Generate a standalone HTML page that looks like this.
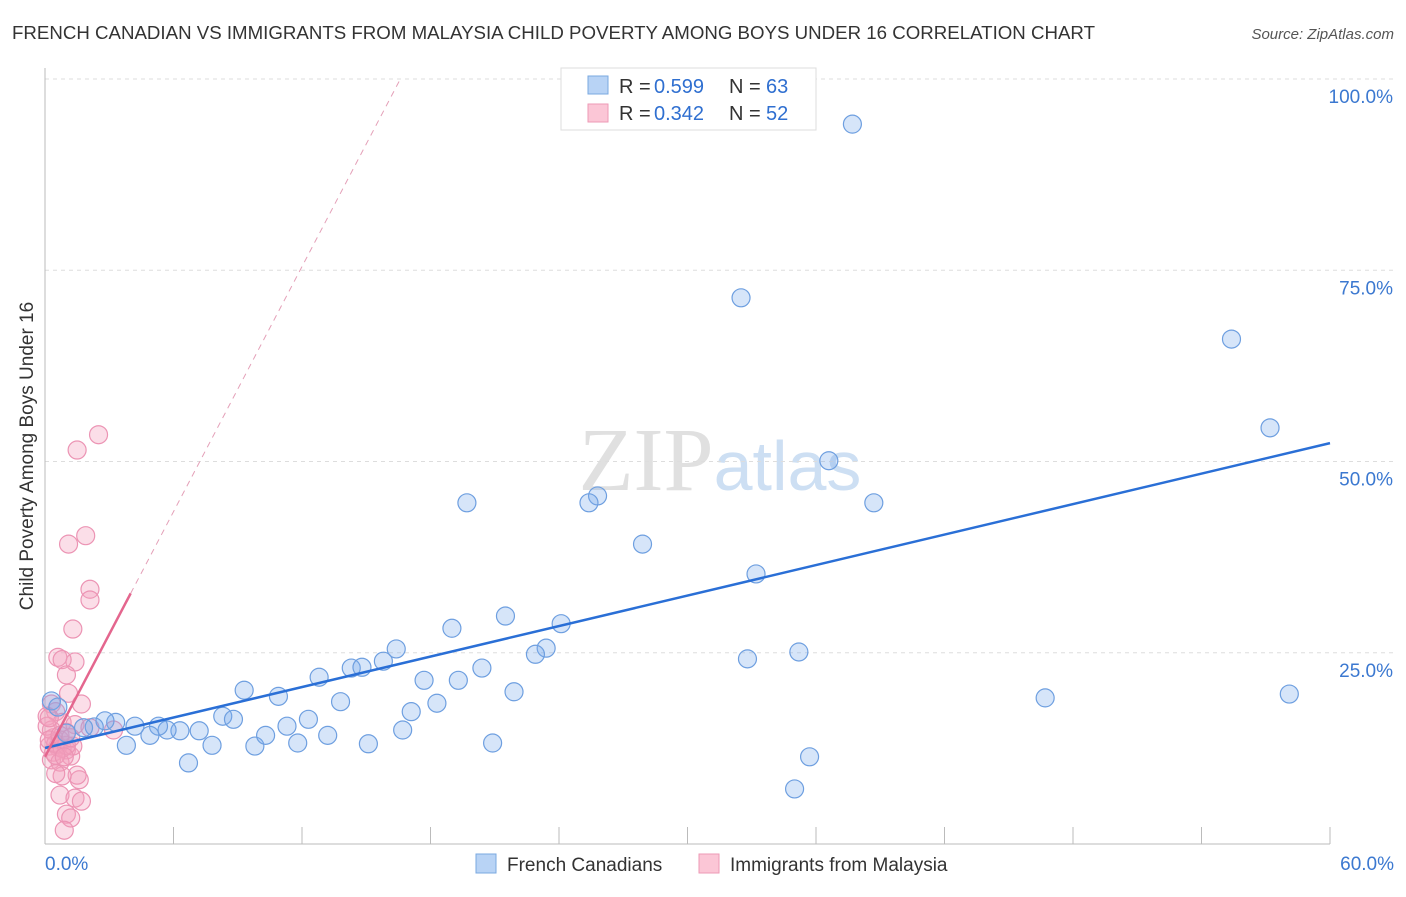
<!DOCTYPE html>
<html><head><meta charset="utf-8"><style>
body{margin:0;background:#fff;font-family:"Liberation Sans",sans-serif}
</style></head><body>
<svg id="chart" width="1406" height="892" xmlns="http://www.w3.org/2000/svg" font-family="Liberation Sans, sans-serif">
<text x="12" y="39" font-size="18" fill="#333" textLength="1083" lengthAdjust="spacingAndGlyphs">FRENCH CANADIAN VS IMMIGRANTS FROM MALAYSIA CHILD POVERTY AMONG BOYS UNDER 16 CORRELATION CHART</text>
<text x="1394" y="39" font-size="15" fill="#555" text-anchor="end" font-style="italic">Source: ZipAtlas.com</text>
<text x="720" y="490" font-size="90" text-anchor="middle" fill="#e0e0e0" font-family="Liberation Serif, serif">ZIP<tspan fill="#cddff3" font-family="Liberation Sans, sans-serif" font-size="70">atlas</tspan></text>
<text transform="translate(33,456) rotate(-90)" font-size="19" fill="#333" text-anchor="middle">Child Poverty Among Boys Under 16</text>
<g id="grid"></g><g id="axes"></g><g id="pts"></g><g id="trends"></g>
<g>
<rect x="561" y="68" width="255" height="62" fill="#fff" stroke="#ddd"/>
<rect x="588" y="76" width="20" height="18" fill="#b8d3f5" stroke="#7aa8e0"/>
<rect x="588" y="104" width="20" height="18" fill="#fbc6d6" stroke="#ee9ab6"/>
<text x="619" y="93" font-size="20" fill="#333">R =</text>
<text x="654" y="93" font-size="20" fill="#2f6fd0">0.599</text>
<text x="729" y="93" font-size="20" fill="#333">N =</text>
<text x="766" y="93" font-size="20" fill="#2f6fd0">63</text>
<text x="619" y="120" font-size="20" fill="#333">R =</text>
<text x="654" y="120" font-size="20" fill="#2f6fd0">0.342</text>
<text x="729" y="120" font-size="20" fill="#333">N =</text>
<text x="766" y="120" font-size="20" fill="#2f6fd0">52</text>
</g>
<g>
<rect x="476" y="854" width="20" height="19" fill="#b8d3f5" stroke="#7aa8e0"/>
<text x="507" y="871" font-size="19" fill="#333">French Canadians</text>
<rect x="699" y="854" width="20" height="19" fill="#fbc6d6" stroke="#ee9ab6"/>
<text x="730" y="871" font-size="19" fill="#333">Immigrants from Malaysia</text>
</g>
</svg>
<script>
const blueX=[37.7,32.5,55.4,57.2,36.6,38.7,19.7,25.8,25.4,27.9,33.2,21.5,24.1,23.4,22.9,19.0,32.8,35.2,16.4,15.8,14.3,14.8,12.8,9.3,10.9,20.4,19.3,17.7,21.9,13.8,18.3,17.1,46.7,58.1,8.3,8.8,12.3,11.3,7.2,6.3,5.7,5.3,4.2,3.3,4.9,3.8,7.8,9.8,10.3,11.8,13.2,15.1,16.7,20.9,6.7,35.7,35.0,2.8,2.3,1.8,0.3,0.6,1.0];
const blueY=[94.1,71.4,66.0,54.4,50.1,44.6,44.6,45.5,44.6,39.2,35.3,29.8,28.8,25.6,24.8,28.2,24.2,25.1,25.5,23.9,23.0,23.1,21.8,20.1,19.3,23.0,21.4,21.4,19.9,18.6,18.4,17.3,19.1,19.6,16.7,16.3,16.3,15.4,14.8,14.8,14.9,15.4,15.4,15.9,14.2,12.9,12.9,12.8,14.2,13.2,14.2,13.1,14.9,13.2,10.6,11.4,7.2,16.1,15.3,15.2,18.7,17.9,14.5];
const pinkX=[2.5,1.5,1.9,1.1,2.1,2.1,1.3,0.6,1.4,0.8,1.0,1.1,1.7,0.3,0.5,0.1,0.8,1.4,2.1,3.2,1.0,0.4,0.7,0.2,0.6,1.0,1.2,0.4,0.3,0.7,1.6,1.5,0.8,0.5,0.7,1.4,1.7,1.0,1.2,0.9,0.3,0.1,0.5,0.8,1.3,0.2,1.0,0.7,0.5,0.9,0.2,1.2];
const pinkY=[53.5,51.5,40.3,39.2,33.3,31.9,28.1,24.4,23.8,24.1,22.1,19.7,18.3,18.3,17.3,16.7,15.9,15.6,15.2,14.9,14.6,13.9,13.6,12.8,12.7,12.3,11.5,12.0,11.0,10.7,8.4,9.0,8.9,9.2,6.4,6.0,5.6,3.9,3.4,1.8,14.9,15.4,13.1,12.5,12.8,13.6,12.9,14.2,11.6,11.4,16.5,13.9];
const blueTrend=[12.55,52.4];
const pinkTrend=[11.4,5.34];
const yTicks=[25,50,75,100];
const xTicks=[0,6,12,18,24,30,36,42,48,54,60];
const NS="http://www.w3.org/2000/svg";
const X=v=>45+v/60*1285, Y=v=>844-v*7.65;
function mk(tag,attrs,parent){const e=document.createElementNS(NS,tag);for(const k in attrs)e.setAttribute(k,attrs[k]);document.getElementById(parent).appendChild(e);return e;}
yTicks.forEach(t=>{
 const l=mk('line',{x1:45,x2:1394,y1:Y(t),y2:Y(t),stroke:'#ddd','stroke-dasharray':'4,4'},'grid');
 
 
 const tx=mk('text',{x:1393,y:Y(t)+24,'font-size':19,fill:'#3b78d0','text-anchor':'end'},'grid');tx.textContent=t.toFixed(1)+'%';
 
 
});
mk('line',{x1:45,x2:45,y1:68,y2:844,stroke:'#bbb'},'axes');
mk('line',{x1:45,x2:1330,y1:844,y2:844,stroke:'#bbb'},'axes');
xTicks.slice(1).forEach(t=>{const l=mk('line',{x1:X(t),x2:X(t),y1:827,y2:844,stroke:'#bbb'},'axes');
 
 });
[[0,'start',45],[60,'end',1394]].forEach(([t,a,x])=>{const tx=mk('text',{x:x,y:870,'font-size':19,fill:'#3b78d0','text-anchor':a},'axes');tx.textContent=t.toFixed(1)+'%';
 
 });
pinkX.forEach((v,i)=>{const c=mk('circle',{cx:X(v),cy:Y(pinkY[i]),r:9,fill:'rgba(244,160,190,0.35)',stroke:'#ec94b4','stroke-width':1.2},'pts');
 
 });
blueX.forEach((v,i)=>{const c=mk('circle',{cx:X(v),cy:Y(blueY[i]),r:9,fill:'rgba(120,170,235,0.3)',stroke:'#6e9fe0','stroke-width':1.2},'pts');
 
 });
const bt=mk('line',{x1:X(0),y1:Y(blueTrend[0]),x2:X(60),y2:Y(blueTrend[1]),stroke:'#2a6fd6','stroke-width':2.5},'trends');


const pf=x=>pinkTrend[0]+pinkTrend[1]*x;
const ps=mk('line',{x1:X(0),y1:Y(pf(0)),x2:X(4),y2:Y(pf(4)),stroke:'#e4668e','stroke-width':2.5},'trends');


const pd=mk('line',{x1:X(4),y1:Y(pf(4)),x2:X(16.6),y2:Y(pf(16.6)),stroke:'#e4a0b8','stroke-width':1,'stroke-dasharray':'6,5'},'trends');


</script>
</body></html>
